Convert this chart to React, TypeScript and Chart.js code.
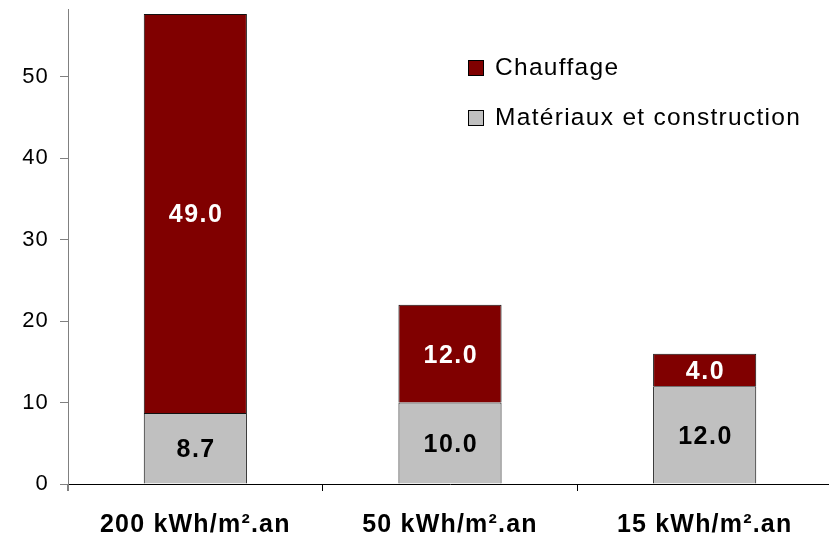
import React, { useEffect, useRef } from "react";
import { Chart, registerables } from "chart.js";

Chart.register(...registerables);

const categories = ["200 kWh/m².an", "50 kWh/m².an", "15 kWh/m².an"];
const materiaux = [8.7, 10.0, 12.0];
const chauffage = [49.0, 12.0, 4.0];
const seriesNames = ["Chauffage", "Matériaux et construction"];
const yMax = 58.3;

const FONT = "'Liberation Sans', Arial, sans-serif";

const spacingPlugin = {
  id: "spacing",
  beforeLayout(chart: any) {
    chart.ctx.letterSpacing = "1.2px";
  },
  beforeDraw(chart: any) {
    chart.ctx.letterSpacing = "1.2px";
  },
};

const labelPlugin = {
  id: "labels",
  afterDatasetsDraw(chart: any) {
    const ctx = chart.ctx;
    ctx.save();
    ctx.letterSpacing = "1.5px";
    ctx.font = `bold 25px ${FONT}`;
    ctx.textAlign = "center";
    ctx.textBaseline = "alphabetic";
    chart.data.datasets.forEach((ds: any, di: number) => {
      const meta = chart.getDatasetMeta(di);
      meta.data.forEach((el: any, i: number) => {
        const p = el.getProps(["x", "y", "base"], true);
        const cy = (p.y + p.base) / 2;
        ctx.fillStyle = ds.label === "Chauffage" ? "#ffffff" : "#000000";
        const txt = Number(ds.data[i]).toFixed(1);
        ctx.fillText(txt, p.x + 0.8, cy + 8.9);
      });
    });
    ctx.restore();
  },
};

const legendPlugin = {
  id: "customLegend",
  afterDraw(chart: any) {
    const ctx = chart.ctx;
    ctx.save();
    ctx.letterSpacing = "1.3px";
    ctx.font = `24.5px ${FONT}`;
    ctx.textAlign = "left";
    ctx.textBaseline = "alphabetic";
    const items = [
      { label: seriesNames[0], color: "#800000", y: 60 },
      { label: seriesNames[1], color: "#C0C0C0", y: 110 },
    ];
    items.forEach((it) => {
      ctx.fillStyle = it.color;
      ctx.fillRect(468.5, it.y + 0.5, 15, 15);
      ctx.strokeStyle = "#000000";
      ctx.lineWidth = 1;
      ctx.strokeRect(468.5, it.y + 0.5, 15, 15);
      ctx.fillStyle = "#000000";
      ctx.fillText(it.label, 495, it.y + 15);
    });
    ctx.restore();
  },
};

export default function App() {
  const ref = useRef<HTMLCanvasElement | null>(null);
  useEffect(() => {
    document.body.style.margin = "0";
    const canvas = ref.current!;
    const chart = new Chart(canvas, {
      type: "bar",
      data: {
        labels: categories,
        datasets: [
          {
            label: seriesNames[1],
            data: materiaux,
            backgroundColor: "#C0C0C0",
            borderColor: "#111111",
            borderWidth: 1,
            barPercentage: 0.405,
            categoryPercentage: 1,
          },
          {
            label: seriesNames[0],
            data: chauffage,
            backgroundColor: "#800000",
            borderColor: "#111111",
            borderWidth: 1,
            barPercentage: 0.405,
            categoryPercentage: 1,
          },
        ],
      },
      options: {
        responsive: false,
        animation: false,
        devicePixelRatio: 1,
        layout: { padding: { top: 9, left: 0, right: 0, bottom: 0 } },
        plugins: {
          legend: { display: false },
          tooltip: { enabled: false },
        },
        scales: {
          x: {
            stacked: true,
            grid: {
              display: true,
              drawOnChartArea: false,
              drawTicks: true,
              tickLength: 7,
              color: (c: any) => (c.index === 0 ? "#808080" : "#000000"),
              lineWidth: (c: any) => (c.index === 0 ? 2 : 1),
              offset: true,
            },
            border: { display: true, color: "#000000", width: 1 },
            ticks: {
              color: "#000000",
              font: { family: FONT, size: 25, weight: "bold" },
              padding: 19,
              maxRotation: 0,
            },
            afterFit(scale: any) {
              scale.height = 54;
              scale.paddingLeft = 0;
              scale.paddingRight = 0;
            },
          },
          y: {
            stacked: true,
            min: 0,
            max: yMax,
            grid: {
              display: true,
              drawOnChartArea: false,
              drawTicks: true,
              tickLength: 8,
              color: "#808080",
            },
            border: { display: true, color: "#808080", width: 1 },
            ticks: {
              stepSize: 10,
              color: "#000000",
              font: { family: FONT, size: 22 },
              padding: 11,
            },
            afterBuildTicks(scale: any) {
              scale.ticks = scale.ticks.filter((t: any) => Math.abs(t.value % 10) < 1e-9);
            },
            afterFit(scale: any) {
              scale.width = 68;
              scale.paddingTop = 0;
              scale.paddingBottom = 0;
            },
          },
        },
      },
      plugins: [spacingPlugin, labelPlugin, legendPlugin],
    } as any);
    return () => chart.destroy();
  }, []);
  return (
    <div style={{ width: 829, height: 538, overflow: "hidden", background: "#fff" }}>
      <canvas ref={ref} width={832} height={538} style={{ display: "block" }} />
    </div>
  );
}
